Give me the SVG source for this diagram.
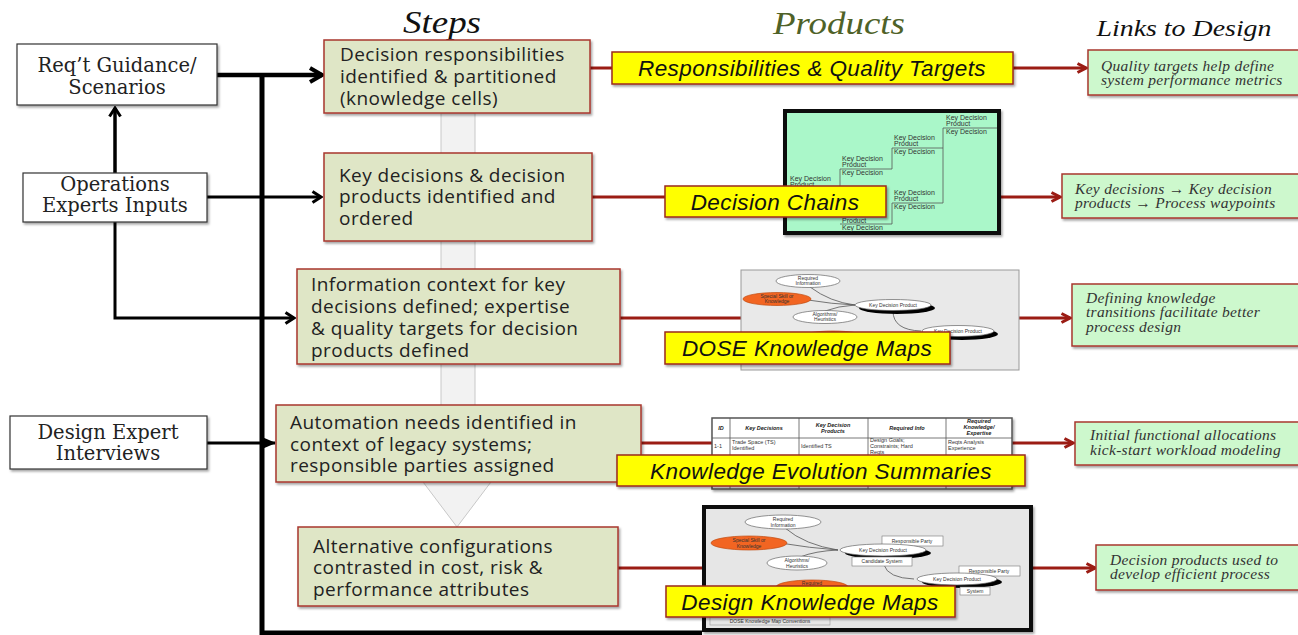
<svg xmlns="http://www.w3.org/2000/svg" width="1298" height="635" viewBox="0 0 1298 635">
<defs>
<style>
.title{font-family:"Liberation Serif",serif;font-style:italic;}
.lbox{fill:#fff;stroke:#333;stroke-width:1.2;}
.ltxt{font-family:"DejaVu Serif",serif;font-size:19.5px;fill:#222;text-anchor:middle;}
.step{fill:#dfe6c6;stroke:#a8372e;stroke-width:1.5;}
.stxt{font-family:"Open Sans",sans-serif;font-size:19px;letter-spacing:0.45px;fill:#222;}
.prod{fill:#ffff00;stroke:#9b2a1c;stroke-width:1.5;}
.ptxt{font-family:"Liberation Sans",sans-serif;font-style:italic;font-size:22.5px;letter-spacing:0.4px;fill:#111;text-anchor:middle;}
.link{fill:#cdf8cd;stroke:#a8372e;stroke-width:1.5;}
.ktxt{font-family:"Liberation Serif",serif;font-style:italic;font-size:15.5px;letter-spacing:0.3px;fill:#333;}
.blk{fill:none;stroke:#000;}
.red{fill:none;stroke:#9b1c14;stroke-width:3;}
.tiny{font-family:"Liberation Sans",sans-serif;font-size:7px;fill:#333;}
.micro{font-family:"Liberation Sans",sans-serif;font-size:5px;fill:#333;text-anchor:middle;}
.ell{fill:#fff;stroke:#666;stroke-width:0.7;}
.oell{fill:#f26522;stroke:#c04a10;stroke-width:0.7;}
.thin{fill:none;stroke:#555;stroke-width:0.8;}
</style>
<filter id="sh" x="-10%" y="-10%" width="130%" height="140%"><feDropShadow dx="1.5" dy="2" stdDeviation="1.2" flood-color="#000" flood-opacity="0.35"/></filter>
<marker id="chev" viewBox="0 0 12 14" refX="10" refY="7" markerWidth="12" markerHeight="14" markerUnits="userSpaceOnUse" orient="auto"><path d="M1.5,1.5 L10,7 L1.5,12.5" fill="none" stroke="#000" stroke-width="3"/></marker>
<marker id="chevBig" viewBox="0 0 16 18" refX="14" refY="9" markerWidth="16" markerHeight="18" markerUnits="userSpaceOnUse" orient="auto"><path d="M2,2 L14,9 L2,16" fill="none" stroke="#000" stroke-width="4"/></marker>
<marker id="tri" viewBox="0 0 14 12" refX="13" refY="6" markerWidth="14" markerHeight="12" markerUnits="userSpaceOnUse" orient="auto"><path d="M0,0 L14,6 L0,12 Z" fill="#000"/></marker>
<marker id="redA" viewBox="0 0 12 12" refX="10" refY="6" markerWidth="12" markerHeight="12" markerUnits="userSpaceOnUse" orient="auto"><path d="M1.5,1.5 L10,6 L1.5,10.5" fill="none" stroke="#9b1c14" stroke-width="3"/></marker>
</defs>
<rect width="1298" height="635" fill="#fff"/>

<!-- titles -->
<text class="title" x="442" y="33" font-size="31" text-anchor="middle" fill="#111" textLength="78" lengthAdjust="spacingAndGlyphs">Steps</text>
<text class="title" x="839" y="34" font-size="31" text-anchor="middle" fill="#4f6228" textLength="132" lengthAdjust="spacingAndGlyphs">Products</text>
<text class="title" x="1184" y="36" font-size="24" text-anchor="middle" fill="#111" textLength="175" lengthAdjust="spacingAndGlyphs">Links to Design</text>

<!-- background flow arrow -->
<g id="flow-arrow">
<polygon points="441,113 475,113 475,470 500,470 457,527 414,470 441,470" fill="#f2f2f2" stroke="#c8c8c8" stroke-width="1"/>
</g>

<g id="connectors">
<path class="blk" stroke-width="5" d="M262,73 V633 H702"/>
<line class="blk" stroke-width="4.5" x1="217" y1="75" x2="322" y2="75" marker-end="url(#chevBig)"/>
<line class="blk" stroke-width="3" x1="207" y1="197" x2="321" y2="197" marker-end="url(#chev)"/>
<line class="blk" stroke-width="3.5" x1="115" y1="173" x2="115" y2="108" marker-end="url(#chev)"/>
<polyline class="blk" stroke-width="3" points="115,222 115,318 294,318" marker-end="url(#chev)"/>
<line class="blk" stroke-width="3" x1="207" y1="443" x2="275" y2="443" marker-end="url(#tri)"/>
<line class="red" x1="590" y1="68" x2="612" y2="68"/>
<line class="red" x1="1013" y1="68" x2="1086" y2="68" marker-end="url(#redA)"/>
<line class="red" x1="592" y1="197" x2="665" y2="197"/>
<line class="red" x1="1001" y1="197" x2="1060" y2="197" marker-end="url(#redA)"/>
<line class="red" x1="620" y1="318" x2="741" y2="318"/>
<line class="red" x1="1019" y1="318" x2="1070" y2="318" marker-end="url(#redA)"/>
<line class="red" x1="641" y1="443" x2="712" y2="443"/>
<line class="red" x1="1012" y1="443" x2="1073" y2="443" marker-end="url(#redA)"/>
<line class="red" x1="618" y1="568" x2="702" y2="568"/>
<line class="red" x1="1033" y1="568" x2="1095" y2="568" marker-end="url(#redA)"/>
</g>

<!-- left input boxes -->
<g id="req-guidance">
<rect class="lbox" x="17" y="44" width="200" height="61" filter="url(#sh)"/>
<text class="ltxt" x="117" y="72">Req’t Guidance/</text>
<text class="ltxt" x="117" y="94">Scenarios</text>
</g>
<g id="operations-experts">
<rect class="lbox" x="23" y="173" width="184" height="49" filter="url(#sh)"/>
<text class="ltxt" x="115" y="191">Operations</text>
<text class="ltxt" x="115" y="212">Experts Inputs</text>
</g>
<g id="design-expert">
<rect class="lbox" x="10" y="416" width="197" height="53" filter="url(#sh)"/>
<text class="ltxt" x="108" y="439">Design Expert</text>
<text class="ltxt" x="108" y="460">Interviews</text>
</g>

<!-- steps -->
<g id="step1">
<rect class="step" x="324" y="40" width="266" height="73" filter="url(#sh)"/>
<text class="stxt" x="340" y="61">Decision responsibilities</text>
<text class="stxt" x="340" y="83">identified &amp; partitioned</text>
<text class="stxt" x="340" y="105">(knowledge cells)</text>
</g>
<g id="step2">
<rect class="step" x="324" y="153" width="268" height="88" filter="url(#sh)"/>
<text class="stxt" x="339" y="182">Key decisions &amp; decision</text>
<text class="stxt" x="339" y="203">products identified and</text>
<text class="stxt" x="339" y="225">ordered</text>
</g>
<g id="step3">
<rect class="step" x="297" y="269" width="323" height="95" filter="url(#sh)"/>
<text class="stxt" x="311" y="291">Information context for key</text>
<text class="stxt" x="311" y="313">decisions defined; expertise</text>
<text class="stxt" x="311" y="335">&amp; quality targets for decision</text>
<text class="stxt" x="311" y="357">products defined</text>
</g>
<g id="step4">
<rect class="step" x="276" y="405" width="365" height="77" filter="url(#sh)"/>
<text class="stxt" x="290" y="429">Automation needs identified in</text>
<text class="stxt" x="290" y="451">context of legacy systems;</text>
<text class="stxt" x="290" y="472">responsible parties assigned</text>
</g>
<g id="step5">
<rect class="step" x="298" y="527" width="320" height="79" filter="url(#sh)"/>
<text class="stxt" x="313" y="553">Alternative configurations</text>
<text class="stxt" x="313" y="574">contrasted in cost, risk &amp;</text>
<text class="stxt" x="313" y="596">performance attributes</text>
</g>

<!-- thumbnails -->
<g id="thumb-decision-chains">
<rect x="785" y="111" width="214" height="122" fill="#aaf7c9" stroke="#111" stroke-width="4" filter="url(#sh)"/>
<path class="thin" d="M943,128 H997 M943,128 V203 M892,148 H943 M892,148 V169 M840,169 H892 M840,169 V188 M787,188 H840 M892,203 H943 M892,203 V224 M840,224 H892"/>
<text class="tiny" x="946" y="120">Key Decision</text>
<text class="tiny" x="946" y="126">Product</text>
<text class="tiny" x="946" y="134">Key Decision</text>
<text class="tiny" x="894" y="140">Key Decision</text>
<text class="tiny" x="894" y="146">Product</text>
<text class="tiny" x="894" y="154">Key Decision</text>
<text class="tiny" x="842" y="161">Key Decision</text>
<text class="tiny" x="842" y="167">Product</text>
<text class="tiny" x="842" y="175">Key Decision</text>
<text class="tiny" x="790" y="181">Key Decision</text>
<text class="tiny" x="790" y="187">Product</text>
<text class="tiny" x="894" y="195">Key Decision</text>
<text class="tiny" x="894" y="201">Product</text>
<text class="tiny" x="894" y="209">Key Decision</text>
<text class="tiny" x="842" y="223">Product</text>
<text class="tiny" x="842" y="230">Key Decision</text>
</g>

<g id="thumb-dose-maps">
<rect x="741" y="270" width="278" height="100" fill="#e9e9e9" stroke="#999" stroke-width="1"/>
<path class="thin" d="M810,287 Q830,302 855,305 M808,300 Q832,304 855,305 M825,311 Q838,306 855,305 M893,311 Q893,330 921,331"/>
<ellipse cx="897" cy="308" rx="38" ry="6" fill="#000"/>
<ellipse class="ell" cx="893" cy="305" rx="38" ry="5.5"/>
<text class="micro" x="893" y="307">Key Decision Product</text>
<ellipse cx="962" cy="334" rx="36" ry="6" fill="#000"/>
<ellipse class="ell" cx="958" cy="331" rx="36" ry="5.5"/>
<text class="micro" x="958" y="333">Key Decision Product</text>
<ellipse class="ell" cx="808" cy="281" rx="32" ry="6.5"/>
<text class="micro" x="808" y="280">Required</text>
<text class="micro" x="808" y="285">Information</text>
<ellipse class="oell" cx="777" cy="299" rx="34" ry="6.5"/>
<text class="micro" x="777" y="298" fill="#fff">Special Skill or</text>
<text class="micro" x="777" y="303" fill="#fff">Knowledge</text>
<ellipse class="ell" cx="825" cy="317" rx="32" ry="6.5"/>
<text class="micro" x="825" y="316">Algorithms/</text>
<text class="micro" x="825" y="321">Heuristics</text>
<ellipse class="oell" cx="833" cy="337" rx="32" ry="6"/>
</g>

<g id="thumb-kes-table">
<rect x="712" y="418" width="300" height="71" fill="#fff" stroke="#555" stroke-width="1.5" filter="url(#sh)"/>
<path class="thin" d="M730,418 V489 M799,418 V489 M868,418 V489 M946,418 V489 M712,438 H1012 M712,457 H1012"/>
<g font-family="Liberation Sans,sans-serif" font-size="5.5" font-weight="bold" font-style="italic" fill="#222" text-anchor="middle">
<text x="721" y="430">ID</text>
<text x="764" y="430">Key Decisions</text>
<text x="833" y="427">Key Decision</text>
<text x="833" y="433">Products</text>
<text x="907" y="430">Required Info</text>
<text x="979" y="423">Required</text>
<text x="979" y="429">Knowledge/</text>
<text x="979" y="435">Expertise</text>
</g>
<g font-family="Liberation Sans,sans-serif" font-size="5.5" fill="#333">
<text x="714" y="448">1-1</text>
<text x="732" y="444">Trade Space (TS)</text>
<text x="732" y="450">Identified</text>
<text x="801" y="448">Identified TS</text>
<text x="870" y="442">Design Goals;</text>
<text x="870" y="448">Constraints; Hard</text>
<text x="870" y="454">Reqts</text>
<text x="948" y="444">Reqts Analysis</text>
<text x="948" y="450">Experience</text>
</g>
</g>

<g id="thumb-design-maps">
<rect x="704" y="507" width="327" height="123" fill="#e6e6e6" stroke="#111" stroke-width="4" filter="url(#sh)"/>
<path class="thin" d="M785,528 Q805,545 838,550 M780,543 Q810,548 838,550 M800,557 Q815,551 838,550 M884,565 Q888,578 914,579"/>
<ellipse class="ell" cx="783" cy="522" rx="38" ry="7"/>
<text class="micro" x="783" y="521">Required</text>
<text class="micro" x="783" y="527">Information</text>
<ellipse class="oell" cx="749" cy="543" rx="38" ry="7"/>
<text class="micro" x="749" y="542" fill="#fff">Special Skill or</text>
<text class="micro" x="749" y="548" fill="#fff">Knowledge</text>
<ellipse class="ell" cx="797" cy="563" rx="30" ry="7"/>
<text class="micro" x="797" y="562">Algorithms/</text>
<text class="micro" x="797" y="568">Heuristics</text>
<rect x="882" y="536" width="61" height="10" fill="#fff" stroke="#777" stroke-width="0.6"/>
<text class="micro" x="912" y="543">Responsible Party</text>
<ellipse cx="888" cy="553" rx="43" ry="6" fill="#000"/>
<ellipse class="ell" cx="883" cy="550" rx="43" ry="6"/>
<text class="micro" x="883" y="552">Key Decision Product</text>
<rect x="852" y="557" width="60" height="9" fill="#fff" stroke="#777" stroke-width="0.6"/>
<text class="micro" x="882" y="563">Candidate System</text>
<rect x="959" y="566" width="61" height="10" fill="#fff" stroke="#777" stroke-width="0.6"/>
<text class="micro" x="989" y="573">Responsible Party</text>
<ellipse cx="962" cy="582" rx="40" ry="6" fill="#000"/>
<ellipse class="ell" cx="957" cy="579" rx="40" ry="6"/>
<text class="micro" x="957" y="581">Key Decision Product</text>
<rect x="960" y="587" width="30" height="8" fill="#fff" stroke="#777" stroke-width="0.6"/>
<text class="micro" x="975" y="593">System</text>
<ellipse class="oell" cx="812" cy="587" rx="36" ry="7"/>
<text class="micro" x="812" y="585" fill="#fff">Required</text>
<rect x="710" y="617" width="120" height="8" fill="#e6e6e6" stroke="#999" stroke-width="0.6"/>
<text class="micro" x="770" y="623">DOSE Knowledge Map Conventions</text>
</g>

<!-- product labels -->
<g id="prod-responsibilities">
<rect class="prod" x="612" y="52" width="401" height="32" filter="url(#sh)"/>
<text class="ptxt" x="812" y="76">Responsibilities &amp; Quality Targets</text>
</g>
<g id="prod-decision-chains">
<rect class="prod" x="665" y="186" width="221" height="31" filter="url(#sh)"/>
<text class="ptxt" x="775" y="210">Decision Chains</text>
</g>
<g id="prod-dose-maps">
<rect class="prod" x="665" y="332" width="285" height="32" filter="url(#sh)"/>
<text class="ptxt" x="807" y="356">DOSE Knowledge Maps</text>
</g>
<g id="prod-kes">
<rect class="prod" x="617" y="455" width="408" height="31" filter="url(#sh)"/>
<text class="ptxt" x="821" y="479">Knowledge Evolution Summaries</text>
</g>
<g id="prod-design-maps">
<rect class="prod" x="666" y="586" width="289" height="31" filter="url(#sh)"/>
<text class="ptxt" x="810" y="610">Design Knowledge Maps</text>
</g>

<!-- links to design -->
<g id="link1">
<rect class="link" x="1088" y="50" width="212" height="45" filter="url(#sh)"/>
<text class="ktxt" x="1101" y="71">Quality targets help define</text>
<text class="ktxt" x="1101" y="85">system performance metrics</text>
</g>
<g id="link2">
<rect class="link" x="1062" y="174" width="238" height="44" filter="url(#sh)"/>
<text class="ktxt" x="1075" y="194">Key decisions → Key decision</text>
<text class="ktxt" x="1075" y="208">products → Process waypoints</text>
</g>
<g id="link3">
<rect class="link" x="1072" y="284" width="228" height="62" filter="url(#sh)"/>
<text class="ktxt" x="1086" y="303">Defining knowledge</text>
<text class="ktxt" x="1086" y="317">transitions facilitate better</text>
<text class="ktxt" x="1086" y="332">process design</text>
</g>
<g id="link4">
<rect class="link" x="1075" y="422" width="225" height="43" filter="url(#sh)"/>
<text class="ktxt" x="1090" y="440">Initial functional allocations</text>
<text class="ktxt" x="1090" y="455">kick-start workload modeling</text>
</g>
<g id="link5">
<rect class="link" x="1096" y="545" width="204" height="45" filter="url(#sh)"/>
<text class="ktxt" x="1110" y="565">Decision products used to</text>
<text class="ktxt" x="1110" y="579">develop efficient process</text>
</g>
</svg>
